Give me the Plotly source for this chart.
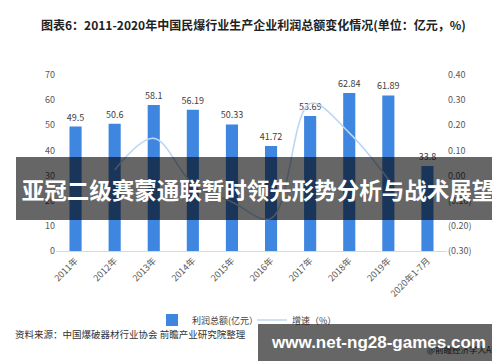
import plotly.graph_objects as go

years = ["2011年", "2012年", "2013年", "2014年", "2015年", "2016年", "2017年", "2018年", "2019年", "2020年1-7月"]
profit = [49.5, 50.6, 58.1, 56.19, 50.33, 41.72, 53.69, 62.84, 61.89, 33.8]
profit_labels = ["49.5", "50.6", "58.1", "56.19", "50.33", "41.72", "53.69", "62.84", "61.89", "33.8"]
growth = [None, 0.022, 0.148, -0.033, -0.105, -0.171, 0.287, 0.170, -0.015, None]
right_tickvals = [0.4, 0.3, 0.2, 0.1, 0.0, -0.1, -0.2, -0.3]
right_ticktext = ["0.40", "0.30", "0.20", "0.10", "0.00", "(0.10)", "(0.20)", "(0.30)"]

title = "图表6：2011-2020年中国民爆行业生产企业利润总额变化情况(单位：亿元，%)"
source = "资料来源：中国爆破器材行业协会 前瞻产业研究院整理"
banner = "亚冠二级赛蒙通联暂时领先形势分析与战术展望"
site = "www.net-ng28-games.com"

CJK = "Noto Sans CJK SC"
W, H = 500, 362
L, R, T, B = 48, 61, 67, 119
pw, ph = W - L - R, H - T - B

def px(x):
    return (x - L) / pw

def py(y):
    return (H - B - y) / ph

fig = go.Figure()
fig.add_trace(go.Bar(
    x=years, y=profit, name="利润总额(亿元）",
    marker=dict(color="#3f86e0", line=dict(width=0)),
    width=0.31,
    text=profit_labels, textposition="outside", cliponaxis=False,
    constraintext="none",
    textfont=dict(size=9, color="#404040", family=CJK),
))
fig.add_trace(go.Scatter(
    x=years, y=growth, name="增速（%）", yaxis="y2", mode="lines",
    line=dict(color="#bcd6f6", width=1.6, shape="spline", smoothing=1.0),
    connectgaps=False,
))

fig.update_layout(
    width=W, height=H,
    margin=dict(l=L, r=R, t=T, b=B, pad=0),
    paper_bgcolor="white", plot_bgcolor="white",
    font=dict(family=CJK, size=9, color="#595959"),
    bargap=0.69,
    xaxis=dict(
        tickangle=-45, showgrid=False, showline=True, linecolor="#d9d9d9",
        linewidth=1, ticks="", tickfont=dict(size=9, color="#595959"),
    ),
    yaxis=dict(
        range=[0, 70], dtick=10, showgrid=False, zeroline=False,
        showline=False, ticks="", tickfont=dict(size=9, color="#595959"),
    ),
    yaxis2=dict(
        overlaying="y", side="right", range=[-0.3, 0.4],
        tickvals=right_tickvals, ticktext=right_ticktext,
        showgrid=False, zeroline=False, showline=False, ticks="",
        tickfont=dict(size=9, color="#595959"),
    ),
    showlegend=True,
    legend=dict(
        orientation="h", x=px(144), xanchor="left", y=py(312), yanchor="middle",
        font=dict(size=9, color="#404040", family=CJK),
        itemwidth=30, entrywidth=55, entrywidthmode="pixels",
        tracegroupgap=0, bgcolor="rgba(0,0,0,0)",
    ),
)

annotations = [
    dict(text="<b>" + title + "</b>", x=px(245), y=py(16), xref="paper", yref="paper",
         showarrow=False, font=dict(size=12, color="#222222", family=CJK),
         xanchor="center", yanchor="middle"),
    dict(text=source, x=px(5), y=py(326), xref="paper", yref="paper",
         showarrow=False, font=dict(size=9.5, color="#333333", family=CJK),
         xanchor="left", yanchor="middle"),
    dict(text="@前瞻经济学人APP", x=px(496), y=py(341), xref="paper", yref="paper",
         showarrow=False, font=dict(size=8.5, color="#333333", family=CJK),
         xanchor="right", yanchor="middle"),
    dict(text="<b>" + banner + "</b>", x=px(250), y=py(180.5), xref="paper", yref="paper",
         showarrow=False, font=dict(size=22.5, color="white", family=CJK),
         xanchor="center", yanchor="middle", width=484, height=63,
         bgcolor="rgba(0,0,0,0.6)", borderpad=0, borderwidth=0),
    dict(text="<b>" + site + "</b>", x=px(370.5), y=py(334.5), xref="paper", yref="paper",
         showarrow=False, font=dict(size=17, color="white", family="Liberation Sans"),
         xanchor="center", yanchor="middle", width=241, height=37,
         bgcolor="rgba(0,0,0,0.6)", borderpad=0, borderwidth=0),
]
fig.update_layout(annotations=annotations)

fig.write_html("out.html")
